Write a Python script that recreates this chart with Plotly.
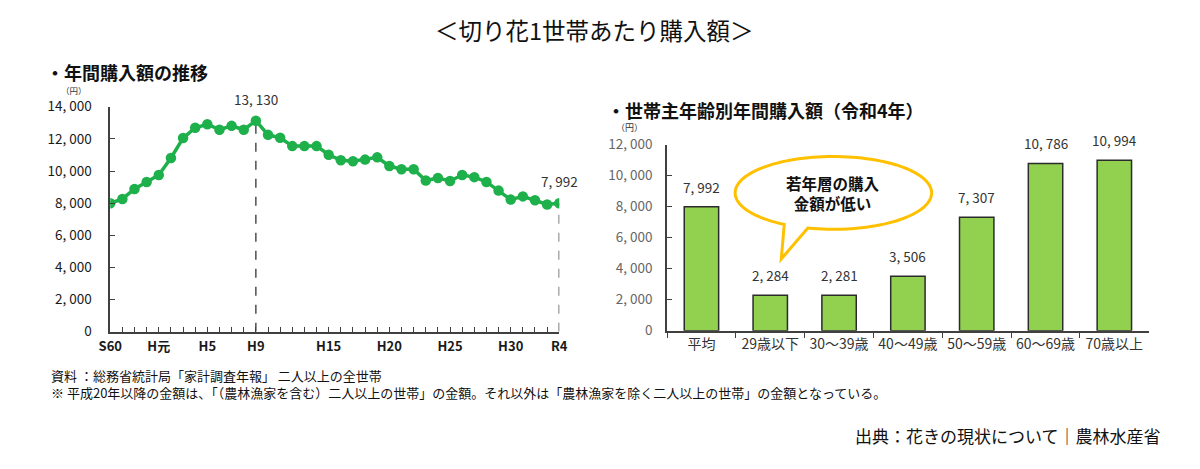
import math
import plotly.graph_objects as go

# ---------------- data ----------------
years = list(range(1985, 2023))
annual_spend = [7990, 8260, 8880, 9320, 9750, 10810, 12050, 12690, 12910, 12570,
                12810, 12570, 13130, 12250, 12070, 11550, 11550, 11550, 11010, 10670,
                10610, 10710, 10850, 10310, 10110, 10110, 9410, 9560, 9380, 9750,
                9620, 9320, 8780, 8220, 8420, 8180, 7920, 7992]
era_tick_years = [1985, 1989, 1993, 1997, 2003, 2008, 2013, 2018, 2022]
era_tick_labels = ["S60", "H元", "H5", "H9", "H15", "H20", "H25", "H30", "R4"]
highlight_years = [1997, 2022]

age_groups = ["平均", "29歳以下", "30～39歳", "40～49歳", "50～59歳", "60～69歳", "70歳以上"]
age_spend = [7992, 2284, 2281, 3506, 7307, 10786, 10994]

left_yticks = [0, 2000, 4000, 6000, 8000, 10000, 12000, 14000]
right_yticks = [0, 2000, 4000, 6000, 8000, 10000, 12000]

W, H = 1200, 469
FONT = "Noto Sans CJK JP"


def px(x):
    return x / W


def py(y):
    return 1 - y / H


def fmt(v):
    return f"{v:,}".replace(",", ", ")


fig = go.Figure()

# left line chart
fig.add_trace(go.Scatter(
    x=years, y=annual_spend, mode="lines+markers",
    line=dict(color="#1DB04B", width=3.5),
    marker=dict(color="#1DB04B", size=10.5),
    xaxis="x", yaxis="y", hoverinfo="x+y", showlegend=False))

# right bar chart
fig.add_trace(go.Bar(
    x=age_groups, y=age_spend, width=0.5,
    marker=dict(color="#92D050", line=dict(color="#2b2b2b", width=1.5)),
    xaxis="x2", yaxis="y2", showlegend=False))

tickvals_left = years
ticktext_left = [era_tick_labels[era_tick_years.index(y)] if y in era_tick_years else "" for y in years]

axis_line = dict(showline=True, linecolor="#404040", linewidth=1.6, showgrid=False, zeroline=False)

fig.update_layout(
    width=W, height=H,
    margin=dict(l=0, r=0, t=0, b=0),
    paper_bgcolor="white", plot_bgcolor="white",
    font=dict(family=FONT, color="#222"),
    xaxis=dict(domain=[px(100), px(557)], range=[1985, 2022], anchor="y",
               tickvals=tickvals_left, ticktext=ticktext_left,
               ticks="inside", ticklen=5, tickcolor="#404040", tickwidth=1.3,
               ticklabelstandoff=2,
               tickfont=dict(size=13, color="#1a1a1a", weight="bold"), **axis_line),
    yaxis=dict(domain=[py(335), py(100)], range=[0, 14000], anchor="x",
               tickvals=left_yticks, ticktext=[fmt(v) for v in left_yticks],
               ticks="inside", ticklen=5, tickcolor="#404040", tickwidth=1.3,
               ticklabelstandoff=14,
               tickfont=dict(size=13.5, color="#1a1a1a"), **axis_line),
    xaxis2=dict(domain=[px(666.7), px(1157)], range=[-0.5, 6.5], anchor="y2",
                type="category", tickson="boundaries",
                ticks="outside", ticklen=5, tickcolor="#404040", tickwidth=1.3,
                tickfont=dict(size=14, color="#333"), **axis_line),
    yaxis2=dict(domain=[py(334), py(139.5)], range=[0, 12000], anchor="x2",
                tickvals=right_yticks, ticktext=[fmt(v) for v in right_yticks],
                ticks="inside", ticklen=5, tickcolor="#404040", tickwidth=1.3,
                ticklabelstandoff=10,
                tickfont=dict(size=13.5, color="#666"), **axis_line),
)

shapes = []
annotations = []

# dashed drop lines + value labels on left chart
for yr in highlight_years:
    val = annual_spend[years.index(yr)]
    shapes.append(dict(type="line", xref="x", yref="y", x0=yr, x1=yr, y0=0, y1=val,
                       line=dict(color="#333", width=1.3, dash="dash"), layer="below"))
    annotations.append(dict(xref="x", yref="y", x=yr, y=val, text=fmt(val),
                            showarrow=False, xanchor="center", yanchor="bottom", yshift=10,
                            font=dict(size=13.5, color="#333")))

# bar value labels
for cat, val in zip(age_groups, age_spend):
    annotations.append(dict(xref="x2", yref="y2", x=cat, y=val, text=fmt(val),
                            showarrow=False, xanchor="center", yanchor="bottom", yshift=8,
                            font=dict(size=13.5, color="#333")))

# speech bubble
cx, cy, rx, ry = 836, 190, 100, 38
t_right = math.degrees(math.acos((810 - cx) / rx))
t_left = math.degrees(math.acos((786 - cx) / rx))
pts = []
n = 120
start, end = t_right, t_left - 360
for i in range(n + 1):
    t = math.radians(start + (end - start) * i / n)
    pts.append((cx + rx * math.cos(t), cy + ry * math.sin(t)))
pts.append((783, 259))
path = "M " + " L ".join(f"{px(x):.5f},{py(y):.5f}" for x, y in pts) + " Z"
shapes.append(dict(type="path", xref="paper", yref="paper", path=path,
                   fillcolor="white", line=dict(color="#FFC000", width=3), layer="above"))


def note(x, y, text, size, color="#111", bold=False, xanchor="center", align="center"):
    f = dict(size=size, color=color)
    if bold:
        f["weight"] = "bold"
    return dict(xref="paper", yref="paper", x=px(x), y=py(y), text=text, showarrow=False,
                xanchor=xanchor, yanchor="middle", font=f, align=align)


annotations += [
    note(cx, 190, "若年層の購入<br>金額が低い", 15.5, bold=True),
    note(593, 20, "＜切り花1世帯あたり購入額＞", 23.5),
    note(33, 64, "・年間購入額の推移", 18, bold=True, xanchor="left"),
    note(63, 83, "（円）", 8.5, color="#333"),
    note(604, 103, "・世帯主年齢別年間購入額（令和4年）", 18, bold=True, xanchor="left"),
    note(628, 122, "（円）", 9, color="#333"),
    note(38, 381, "資料 ：総務省統計局「家計調査年報」 二人以上の全世帯", 13, xanchor="left"),
    note(38, 398,
         "※ 平成20年以降の金額は、「（農林漁家を含む）二人以上の世帯」の金額。それ以外は「農林漁家を除く二人以上の世帯」の金額となっている。",
         13, xanchor="left"),
    note(1172, 443, "出典：花きの現状について｜農林水産省", 17, xanchor="right"),
]

fig.update_layout(shapes=shapes, annotations=annotations)
fig.write_html("out.html")
